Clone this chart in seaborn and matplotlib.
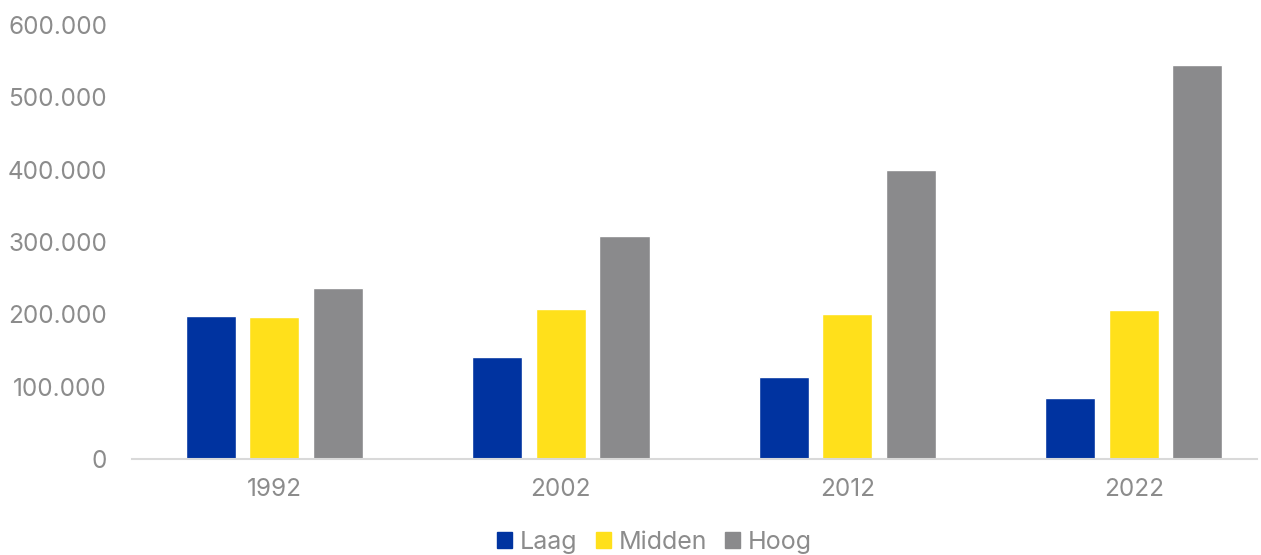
import matplotlib
matplotlib.use("Agg")
import matplotlib.pyplot as plt
import seaborn as sns
import pandas as pd
from matplotlib.ticker import FuncFormatter

years = ["1992", "2002", "2012", "2022"]
levels = ["Laag", "Midden", "Hoog"]
laag = [197000, 141000, 114000, 85000]
midden = [196000, 207000, 201000, 206000]
hoog = [237000, 308000, 399000, 544000]
colors = ["#0033A0", "#FFE01B", "#8A8A8C"]

df = pd.DataFrame({
    "jaar": years * 3,
    "niveau": [l for l in levels for _ in years],
    "waarde": laag + midden + hoog,
})

sns.set_theme(style="white")
plt.rcParams["font.family"] = ["Inter", "DejaVu Sans"]

fig = plt.figure(figsize=(12.61, 5.55), dpi=100)
ax = fig.add_axes([0.1047, 0.173, 0.892, 0.782])

sns.barplot(data=df, x="jaar", y="waarde", hue="niveau", hue_order=levels,
            palette=colors, width=0.666, gap=0.21, ax=ax, legend=False,
            saturation=1, errorbar=None)

ax.set_ylim(0, 600000)
ax.set_xlim(-0.497, 3.43)
ax.set_yticks(range(0, 600001, 100000))
ax.yaxis.set_major_formatter(FuncFormatter(lambda v, p: f"{int(v):,}".replace(",", ".")))
ax.set_xlabel("")
ax.set_ylabel("")
for s in ["top", "right", "left"]:
    ax.spines[s].set_visible(False)
ax.spines["bottom"].set_color("#D9D9D9")
ax.spines["bottom"].set_linewidth(1.5)
ax.tick_params(axis="both", length=0, labelsize=17.5, colors="#8C8C8C")
ax.tick_params(axis="y", pad=18)
ax.tick_params(axis="x", pad=14)

handles = [plt.Rectangle((0, 0), 1, 1, color=c) for c in colors]
leg = fig.legend(handles, levels, loc="lower center", bbox_to_anchor=(0.519, -0.038),
           ncol=3, frameon=False, labelcolor="#8C8C8C",
           handlelength=0.6, handleheight=0.6, handletextpad=0.3, columnspacing=0.75,
           prop={"size": 18})

fig.savefig("out.png", dpi=100)
